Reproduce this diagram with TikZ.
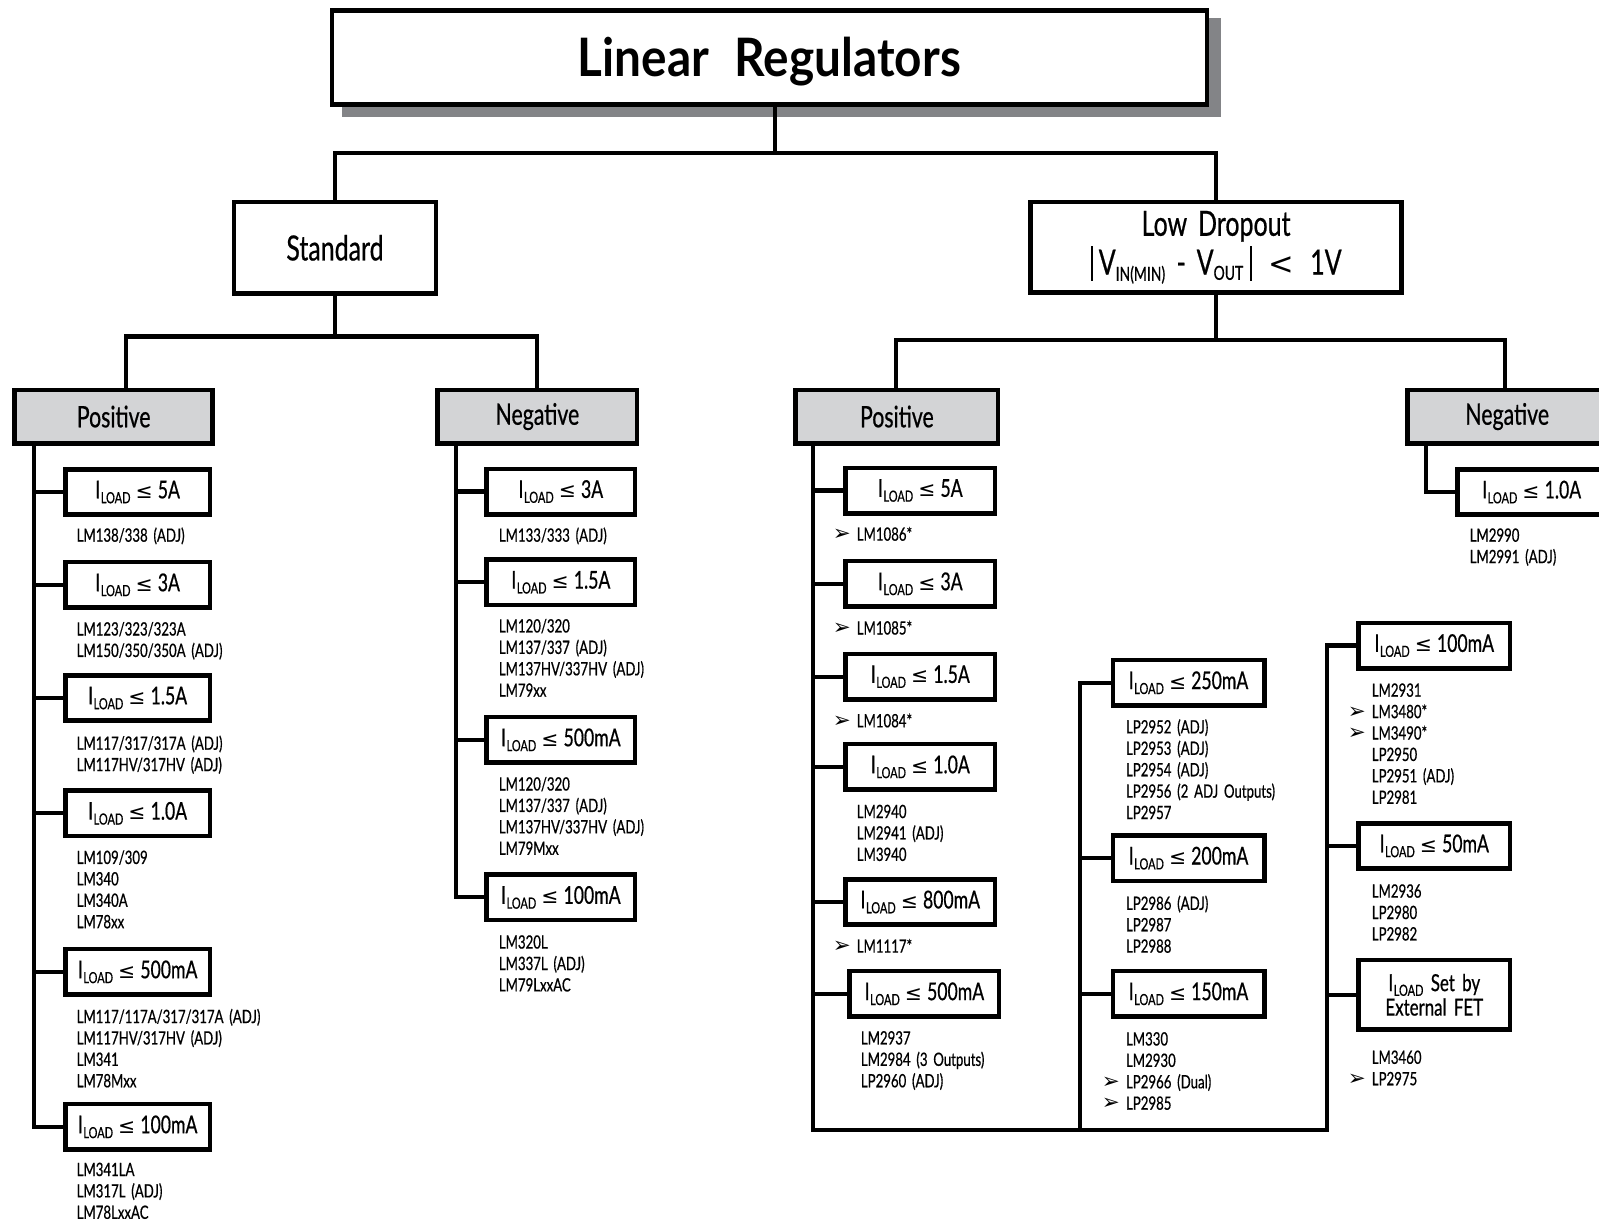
\documentclass[tikz,border=0pt]{standalone}
\usepackage{fontspec}
\setmainfont{Lato}[FakeStretch=0.72, FakeBold=0.6, WordSpace=1.7]
\newfontfamily\titlefont{Lato Bold}[FakeStretch=0.9, WordSpace=2.2]
\newfontfamily\symf{DejaVu Sans}
\usetikzlibrary{calc,backgrounds}
\definecolor{catgray}{HTML}{D3D4D6}
\definecolor{shadowgray}{HTML}{838487}
\newcommand\IL{I\kern0.5pt\raisebox{-0.2em}{\fontsize{15}{15}\selectfont LOAD}}
\newcommand\lesym{\hspace{5pt}{\symf\fontsize{20}{20}\selectfont ≤}\hspace{5pt}}
\newcommand\arr{\llap{{\symf\fontsize{21}{21}\selectfont ➢}\hspace{6pt}}}
\newcommand\ldbar{\rule[-6pt]{2.4pt}{34pt}}
\newcommand\lst[4]{\node[lst] (#1) at (#2,#3-16) {\rule{0pt}{16pt}#4};}
\tikzset{
 box/.style={draw=black, line width=4.5pt, fill=white, inner sep=0pt, align=center, font=\fontsize{24}{28}\selectfont},
 catbox/.style={box, fill=catgray, font=\fontsize{29}{34}\selectfont, minimum height=52.5},
 kid/.style={box, minimum height=44.5},
 conn/.style={line width=4pt},
 lst/.style={anchor=north west, inner sep=0pt, align=left, font=\fontsize{18}{21}\selectfont},
}
\begin{document}
\begin{tikzpicture}[x=1pt,y=-1pt]
\clip (0,0) rectangle (1568,1197);
% top levels
\node[box, font=\fontsize{52}{60}\selectfont\titlefont, minimum width=858, minimum height=92.5] (title) at (754.5,56.5) {\smash{\raisebox{-19pt}{Linear Regulators}}};
\begin{scope}[on background layer]
\fill[shadowgray] ($(title.south west)+(12,10)$) rectangle ($(title.north east)+(12,10)$);
\end{scope}
\node[box, font=\fontsize{34}{36}\selectfont, minimum width=198, minimum height=89.5] (std) at (328.5,243) {Standard};
\node[box, font=\fontsize{34}{36}\selectfont, minimum width=364, minimum height=88.5] (ld) at (1192.5,242.5) {Low Dropout\\[2pt]\ldbar\,V\textsubscript{\fontsize{19}{19}\selectfont IN(MIN)} - V\textsubscript{\fontsize{19}{19}\selectfont OUT}\,\ldbar\hspace{16pt}{\symf\fontsize{30}{30}\selectfont <}\hspace{16pt}1V};
\node[catbox, minimum width=194] (sp) at (111.5,408.5) {Positive};
\node[catbox, minimum width=195.5] (sn) at (527,408.5) {Negative};
\node[catbox, minimum width=198.5] (lp) at (879.5,408.5) {Positive};
\node[catbox, minimum width=195.5] (ln) at (1478,408.5) {Negative};
% connectors top
\coordinate (j0) at (760,150);
\draw[conn] (j0 |- title.south) -- (j0);
\draw[conn] (std.north) |- (j0) -| (ld.north);
\coordinate (hL) at (124,330);
\coordinate (hR) at (527,330);
\draw[conn] (std.south) -- (std.south |- hL);
\draw[conn] (hL |- sp.north) -- (hL) -- (hR) -- (sn.north);
\coordinate (gL) at (879,333);
\coordinate (gR) at (1476,333);
\draw[conn] (ld.south) -- (ld.south |- gL);
\draw[conn] (gL |- lp.north) -- (gL) -- (gR) -- (gR |- ln.north);
% Standard positive
\node[kid, minimum width=141.5] (sp1) at (135,482.5) {\IL\lesym 5A};
\node[kid, minimum width=141.5] (sp2) at (135,573.5) {\IL\lesym 3A};
\node[kid, minimum width=141.5] (sp3) at (135,684.5) {\IL\lesym 1.5A};
\node[kid, minimum width=141.5] (sp4) at (135,797.5) {\IL\lesym 1.0A};
\node[kid, minimum width=141.5] (sp5) at (135,953) {\IL\lesym 500mA};
\node[kid, minimum width=141.5] (sp6) at (135,1105) {\IL\lesym 100mA};
\coordinate (spx) at (33,0);
\draw[conn] (spx |- sp.south) |- (sp6.west);
\foreach \k in {1,...,5} {\draw[conn] (spx |- sp\k.west) -- (sp\k.west);}
\lst{tsp1}{75}{531}{LM138/338 (ADJ)}
\lst{tsp2}{75}{623}{LM123/323/323A\\LM150/350/350A (ADJ)}
\lst{tsp3}{75}{735}{LM117/317/317A (ADJ)\\LM117HV/317HV (ADJ)}
\lst{tsp4}{75}{847}{LM109/309\\LM340\\LM340A\\LM78xx}
\lst{tsp5}{75}{1003}{LM117/117A/317/317A (ADJ)\\LM117HV/317HV (ADJ)\\LM341\\LM78Mxx}
\lst{tsp6}{75}{1153}{LM341LA\\LM317L (ADJ)\\LM78LxxAC}
% Standard negative
\node[kid, minimum width=145.5] (sn1) at (550,482) {\IL\lesym 3A};
\node[kid, minimum width=145.5] (sn2) at (550,571) {\IL\lesym 1.5A};
\node[kid, minimum width=145.5] (sn3) at (550,725.5) {\IL\lesym 500mA};
\node[kid, minimum width=145.5] (sn4) at (550,880) {\IL\lesym 100mA};
\coordinate (snx) at (447,0);
\draw[conn] (snx |- sn.south) |- (sn4.west);
\foreach \k in {1,...,3} {\draw[conn] (snx |- sn\k.west) -- (sn\k.west);}
\lst{tsn1}{489}{531}{LM133/333 (ADJ)}
\lst{tsn2}{489}{620}{LM120/320\\LM137/337 (ADJ)\\LM137HV/337HV (ADJ)\\LM79xx}
\lst{tsn3}{489}{775}{LM120/320\\LM137/337 (ADJ)\\LM137HV/337HV (ADJ)\\LM79Mxx}
\lst{tsn4}{489}{930}{LM320L\\LM337L (ADJ)\\LM79LxxAC}
% Low dropout positive
\node[kid, minimum width=146.5] (lp1) at (902.5,481) {\IL\lesym 5A};
\node[kid, minimum width=146.5] (lp2) at (902.5,572.5) {\IL\lesym 3A};
\node[kid, minimum width=146.5] (lp3) at (902.5,663.5) {\IL\lesym 1.5A};
\node[kid, minimum width=146.5] (lp4) at (902.5,752) {\IL\lesym 1.0A};
\node[kid, minimum width=146.5] (lp5) at (902.5,884.5) {\IL\lesym 800mA};
\node[kid, minimum width=146.5] (lp6) at (906.5,974.5) {\IL\lesym 500mA};
\node[kid, minimum width=148.5] (m1) at (1165.5,669.5) {\IL\lesym 250mA};
\node[kid, minimum width=148.5] (m2) at (1165.5,841.5) {\IL\lesym 200mA};
\node[kid, minimum width=148.5] (m3) at (1165.5,974.5) {\IL\lesym 150mA};
\node[kid, minimum width=148.5] (r1) at (1406.5,633) {\IL\lesym 100mA};
\node[kid, minimum width=148.5] (r2) at (1406.5,829.5) {\IL\lesym 50mA};
\node[box, minimum width=148.5, minimum height=68.5, font=\fontsize{23}{24}\selectfont] (r3) at (1406.5,975.5) {\IL\ Set by\\External FET};
\coordinate (lpx) at (797,0);
\coordinate (mx) at (1059,0);
\coordinate (rx) at (1301,0);
\coordinate (bot) at (0,1108);
\draw[conn] (lpx |- lp.south) -- (lpx |- bot) -- (rx |- bot) -- (rx |- r1.west) -- (r1.west);
\draw[conn] (m1.west) -- (mx |- m1.west) -- (mx |- bot);
\foreach \k in {1,...,6} {\draw[conn] (lpx |- lp\k.west) -- (lp\k.west);}
\foreach \k in {2,3} {\draw[conn] (mx |- m\k.west) -- (m\k.west);}
\foreach \k in {2,3} {\draw[conn] (rx |- r\k.west) -- (r\k.west);}
\lst{tlp1}{840}{530}{\arr LM1086*}
\lst{tlp2}{840}{622}{\arr LM1085*}
\lst{tlp3}{840}{713}{\arr LM1084*}
\lst{tlp4}{840}{802}{LM2940\\LM2941 (ADJ)\\LM3940}
\lst{tlp5}{840}{934}{\arr LM1117*}
\lst{tlp6}{844}{1024}{LM2937\\LM2984 (3 Outputs)\\LP2960 (ADJ)}
\lst{tm1}{1104}{719}{LP2952 (ADJ)\\LP2953 (ADJ)\\LP2954 (ADJ)\\LP2956 (2 ADJ Outputs)\\LP2957}
\lst{tm2}{1104}{892}{LP2986 (ADJ)\\LP2987\\LP2988}
\lst{tm3}{1104}{1025}{LM330\\LM2930\\\arr LP2966 (Dual)\\\arr LP2985}
\lst{tr1}{1345}{683}{LM2931\\\arr LM3480*\\\arr LM3490*\\LP2950\\LP2951 (ADJ)\\LP2981}
\lst{tr2}{1345}{880}{LM2936\\LP2980\\LP2982}
\lst{tr3}{1345}{1043}{LM3460\\\arr LP2975}
% Low dropout negative
\node[kid, minimum width=145.5] (ln1) at (1502,482.5) {\IL\lesym 1.0A};
\coordinate (lnx) at (1398,0);
\draw[conn] (lnx |- ln.south) |- (ln1.west);
\lst{tln1}{1441}{531}{LM2990\\LM2991 (ADJ)}
\end{tikzpicture}
\end{document}
